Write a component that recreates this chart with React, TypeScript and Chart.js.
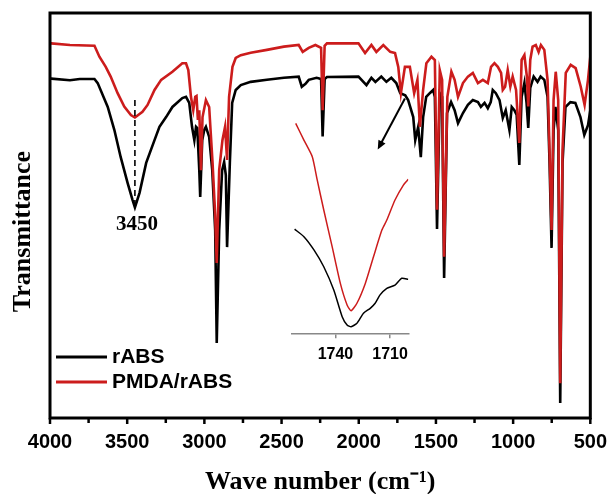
import React, { useEffect, useRef } from 'react';
import { Chart, registerables } from 'chart.js';

Chart.register(...registerables);

// ---------- data ----------
const SERIES_NAMES = ['rABS', 'PMDA/rABS'];
const SERIES_COLORS = ['#000000', '#cc1c1c'];
const X_TITLE = 'Wave number (cm\u207B\u00B9)';
const Y_TITLE = 'Transmittance';

const X_MIN = 500;
const X_MAX = 4000;
const X_TICK_STEP = 250;
const X_LABEL_STEP = 500;

const PEAK_LABEL = '3450';
const PEAK_WN = 3450;
const PEAK_DASH_TOP = 78.5;
const PEAK_DASH_BOTTOM = 52;
const PEAK_LABEL_Y = 47.7;

const ARROW_FROM = [1701, 78.9];
const ARROW_TO = [1877, 66.3];

const rabsWavenumber = [
  4000, 3992, 3871, 3807, 3712, 3691, 3626, 3583, 3542, 3497, 3465, 3450, 3420, 3377, 3323, 3291,
  3248, 3207, 3143, 3119, 3098, 3080, 3065, 3054, 3046, 3033, 3027, 3014, 3001, 2990, 2969, 2949,
  2930, 2920, 2904, 2885, 2872, 2861, 2853, 2835, 2820, 2797, 2764, 2700, 2595, 2485, 2389, 2369,
  2345, 2324, 2273, 2244, 2234, 2221, 2206, 2002, 1950, 1918, 1892, 1854, 1821, 1789, 1757, 1731,
  1699, 1680, 1647, 1634, 1615, 1598, 1583, 1563, 1540, 1518, 1507, 1493, 1475, 1460, 1447, 1428,
  1402, 1379, 1357, 1325, 1293, 1261, 1228, 1209, 1185, 1164, 1145, 1132, 1112, 1088, 1067, 1048,
  1024, 1009, 992, 977, 960, 945, 927, 913, 902, 889, 867, 842, 822, 798, 777, 764,
  751, 738, 726, 708, 695, 680, 661, 629, 597, 564, 539, 515, 500,
];
const rabsTransmittance = [
  83.8, 83.8, 83.4, 83.7, 83.7, 82.7, 76.8, 71.1, 64.4, 58.0, 53.8, 52.0, 55.6, 63.0, 68.6, 71.9,
  74.3, 76.8, 79.0, 79.3, 77.8, 71.9, 68.6, 71.9, 71.6, 61.2, 54.6, 68.6, 71.1, 71.9, 69.4, 61.2,
  46.4, 18.5, 46.4, 61.2, 63.2, 60.0, 42.2, 63.0, 77.8, 81.0, 82.2, 83.0, 83.5, 84.0, 84.3, 81.8,
  82.5, 83.5, 84.0, 83.7, 69.5, 83.7, 84.2, 84.3, 82.2, 84.0, 83.0, 84.3, 83.0, 84.0, 82.7, 80.2,
  79.7, 78.5, 74.3, 68.6, 71.9, 64.4, 74.3, 79.3, 80.2, 81.0, 79.3, 46.7, 80.2, 79.3, 34.6, 75.3,
  78.0, 76.0, 72.8, 75.3, 77.3, 78.5, 78.0, 76.8, 77.8, 76.5, 78.0, 81.0, 80.2, 78.5, 74.1, 76.0,
  71.1, 76.8, 76.0, 74.8, 62.5, 79.3, 82.7, 77.8, 71.6, 81.5, 84.3, 83.0, 84.3, 83.5, 79.3, 63.0,
  42.0, 71.1, 76.8, 71.1, 3.7, 63.0, 76.8, 78.0, 77.8, 74.3, 69.9, 72.3, 76.0,
];

const pmdaWavenumber = [
  4000, 3992, 3871, 3712, 3680, 3639, 3607, 3562, 3519, 3476, 3450, 3401, 3368, 3323, 3280, 3207,
  3143, 3119, 3104, 3087, 3072, 3059, 3051, 3042, 3033, 3022, 3012, 2990, 2969, 2947, 2930, 2920,
  2904, 2883, 2866, 2853, 2840, 2818, 2797, 2764, 2700, 2595, 2485, 2389, 2363, 2324, 2281, 2244,
  2234, 2221, 2206, 2002, 1959, 1918, 1886, 1841, 1796, 1765, 1744, 1727, 1701, 1669, 1641, 1620,
  1604, 1583, 1562, 1529, 1507, 1493, 1475, 1460, 1447, 1426, 1400, 1379, 1357, 1325, 1293, 1261,
  1228, 1196, 1164, 1143, 1121, 1099, 1078, 1067, 1052, 1035, 1018, 1003, 981, 960, 945, 927,
  911, 902, 889, 874, 853, 835, 820, 798, 777, 762, 751, 738, 724, 708, 695, 680,
  659, 627, 595, 562, 537, 515, 500,
];
const pmdaTransmittance = [
  92.5, 92.5, 92.1, 91.9, 89.2, 86.7, 84.3, 80.2, 76.9, 74.8, 74.2, 75.6, 77.3, 81.0, 83.5, 85.5,
  87.6, 87.6, 85.9, 79.3, 76.0, 79.3, 79.5, 73.6, 76.0, 61.2, 74.3, 78.5, 76.8, 63.0, 50.0, 38.3,
  61.2, 68.6, 71.9, 63.7, 79.3, 86.7, 88.9, 89.6, 90.2, 90.9, 91.7, 92.1, 90.4, 91.4, 92.1, 91.4,
  76.0, 91.9, 92.5, 92.5, 90.1, 92.1, 90.4, 92.1, 90.4, 90.1, 86.7, 80.2, 86.7, 86.7, 80.2, 83.5,
  71.9, 81.0, 87.6, 89.2, 88.4, 51.4, 85.9, 83.5, 39.8, 79.3, 85.5, 83.5, 79.3, 82.7, 84.3, 85.2,
  82.7, 83.5, 82.7, 86.7, 87.6, 86.7, 85.2, 81.0, 81.8, 85.9, 81.8, 84.3, 81.0, 67.9, 88.4, 89.6,
  84.3, 76.9, 88.4, 91.7, 92.1, 90.4, 92.1, 90.9, 83.5, 63.0, 46.4, 78.5, 85.5, 78.5, 8.6, 66.2,
  85.2, 87.2, 86.4, 81.8, 77.3, 83.5, 89.2,
];

// inset (C=O region)
const INSET_X_MIN = 1700;
const INSET_X_MAX = 1764;
const INSET_TICKS = [1740, 1710];
const insetRabsWavenumber = [1762.4, 1757.3, 1751.8, 1746.4, 1740.9, 1736.3, 1733.6, 1731.4, 1728.2, 1724.6, 1720.9, 1718.2, 1715.5, 1711.8, 1707.3, 1703.6, 1700];
const insetRabsValue = [48.8, 45.3, 39.1, 31.2, 20.3, 7.8, 3.9, 3.1, 4.7, 9.4, 11.7, 14.1, 18.0, 21.1, 22.6, 25.8, 25.3];
const insetPmdaWavenumber = [1761.8, 1757.3, 1752.7, 1750, 1746.4, 1741.8, 1737.3, 1733.6, 1731.4, 1728.2, 1723.6, 1719.1, 1714.5, 1711.8, 1707.3, 1702.7, 1700];
const insetPmdaValue = [98.4, 90.6, 82.8, 71.9, 57.8, 40.6, 23.4, 13.3, 10.6, 14.1, 23.4, 35.9, 48.4, 53.1, 62.5, 69.5, 72.2];

// ---------- styles ----------
const SANS = '"Liberation Sans", Arial, Helvetica, sans-serif';
const SERIF = '"Liberation Serif", "Times New Roman", Times, serif';

const pairs = (xs: number[], ys: number[]) => xs.map((x, i) => ({ x, y: ys[i] }));

const decorPlugin = {
  id: 'decor',
  afterDraw(chart: any) {
    const { ctx, chartArea: a, scales } = chart;
    const x = scales.x;
    const y = scales.y;
    ctx.save();
    // frame
    ctx.strokeStyle = '#000';
    ctx.lineWidth = 3;
    ctx.strokeRect(a.left, a.top, a.right - a.left, a.bottom - a.top);

    // x tick marks (major and minor), outward
    ctx.lineWidth = 2.5;
    x.ticks.forEach((t: any) => {
      const tx = x.getPixelForValue(t.value);
      const major = t.value % X_LABEL_STEP === 0;
      ctx.beginPath();
      ctx.moveTo(tx, a.bottom);
      ctx.lineTo(tx, a.bottom + (major ? 6 : 5));
      ctx.stroke();
    });

    // dashed marker at 3450
    const px = x.getPixelForValue(PEAK_WN);
    ctx.setLineDash([6, 4]);
    ctx.lineWidth = 1.6;
    ctx.beginPath();
    ctx.moveTo(px, y.getPixelForValue(PEAK_DASH_TOP));
    ctx.lineTo(px, y.getPixelForValue(PEAK_DASH_BOTTOM));
    ctx.stroke();
    ctx.setLineDash([]);
    ctx.fillStyle = '#000';
    ctx.font = `bold 21px ${SERIF}`;
    ctx.textAlign = 'center';
    ctx.textBaseline = 'middle';
    ctx.fillText(PEAK_LABEL, px + 2, y.getPixelForValue(PEAK_LABEL_Y));

    // arrow
    const x0 = x.getPixelForValue(ARROW_FROM[0]);
    const y0 = y.getPixelForValue(ARROW_FROM[1]);
    const x1 = x.getPixelForValue(ARROW_TO[0]);
    const y1 = y.getPixelForValue(ARROW_TO[1]);
    const ang = Math.atan2(y1 - y0, x1 - x0);
    const head = 9;
    ctx.lineWidth = 2;
    ctx.beginPath();
    ctx.moveTo(x0, y0);
    ctx.lineTo(x1 - Math.cos(ang) * head * 0.6, y1 - Math.sin(ang) * head * 0.6);
    ctx.stroke();
    ctx.beginPath();
    ctx.moveTo(x1, y1);
    ctx.lineTo(x1 - head * Math.cos(ang) + 4 * Math.sin(ang), y1 - head * Math.sin(ang) - 4 * Math.cos(ang));
    ctx.lineTo(x1 - head * Math.cos(ang) - 4 * Math.sin(ang), y1 - head * Math.sin(ang) + 4 * Math.cos(ang));
    ctx.closePath();
    ctx.fill();

    // legend
    ctx.font = `bold 21px ${SANS}`;
    ctx.textAlign = 'left';
    ctx.textBaseline = 'middle';
    chart.data.datasets.forEach((ds: any, i: number) => {
      const ly = a.bottom - 61 + i * 25;
      ctx.strokeStyle = ds.borderColor;
      ctx.lineWidth = 3;
      ctx.beginPath();
      ctx.moveTo(a.left + 6, ly);
      ctx.lineTo(a.left + 57, ly);
      ctx.stroke();
      ctx.fillStyle = '#000';
      ctx.fillText(ds.label, a.left + 62, ly);
    });

    // y title
    ctx.translate(23, (a.top + a.bottom) / 2 + 16);
    ctx.rotate(-Math.PI / 2);
    ctx.font = `bold 26px ${SERIF}`;
    ctx.textAlign = 'center';
    ctx.fillText(Y_TITLE, 0, 0);
    ctx.restore();
  },
};

export default function App() {
  const mainRef = useRef<HTMLCanvasElement>(null);
  const insetRef = useRef<HTMLCanvasElement>(null);

  useEffect(() => {
    document.body.style.margin = '0';
    const main = new Chart(mainRef.current as HTMLCanvasElement, {
      type: 'line',
      data: {
        datasets: [
          {
            label: SERIES_NAMES[0],
            data: pairs(rabsWavenumber, rabsTransmittance),
            borderColor: SERIES_COLORS[0],
            borderWidth: 2.6,
            pointRadius: 0,
            tension: 0,
            order: 1,
          },
          {
            label: SERIES_NAMES[1],
            data: pairs(pmdaWavenumber, pmdaTransmittance),
            borderColor: SERIES_COLORS[1],
            borderWidth: 2.6,
            pointRadius: 0,
            tension: 0,
            order: 0,
          },
        ],
      },
      options: {
        responsive: false,
        animation: false,
        layout: { padding: { top: 13, right: 21, left: 0, bottom: 0 } },
        plugins: { legend: { display: false }, tooltip: { enabled: false } },
        scales: {
          x: {
            type: 'linear',
            min: X_MIN,
            max: X_MAX,
            reverse: true,
            ticks: {
              stepSize: X_TICK_STEP,
              autoSkip: false,
              maxRotation: 0,
              padding: 7,
              color: '#000',
              font: { family: SANS, size: 20, weight: 'bold' },
              callback: (v: any) => (Number(v) % X_LABEL_STEP === 0 ? String(v) : ''),
            },
            grid: {
              display: true,
              drawOnChartArea: false,
              drawTicks: true,
              tickLength: 5,
              tickWidth: 2.5,
              color: 'rgba(0,0,0,0)',
            },
            border: { display: false },
            title: {
              display: true,
              text: X_TITLE,
              color: '#000',
              font: { family: SERIF, size: 26, weight: 'bold', lineHeight: 1 },
              padding: { top: 0, bottom: -1 },
            },
            afterFit: (s: any) => {
              s.height = 76;
            },
          },
          y: {
            min: 0,
            max: 100,
            ticks: { display: false },
            grid: { display: false },
            border: { display: false },
            afterFit: (s: any) => {
              s.width = 50;
            },
          },
        },
      } as any,
      plugins: [decorPlugin],
    });

    const inset = new Chart(insetRef.current as HTMLCanvasElement, {
      type: 'line',
      data: {
        datasets: [
          {
            label: SERIES_NAMES[0],
            data: pairs(insetRabsWavenumber, insetRabsValue),
            borderColor: SERIES_COLORS[0],
            borderWidth: 1.5,
            pointRadius: 0,
            tension: 0.2,
            order: 1,
          },
          {
            label: SERIES_NAMES[1],
            data: pairs(insetPmdaWavenumber, insetPmdaValue),
            borderColor: SERIES_COLORS[1],
            borderWidth: 1.5,
            pointRadius: 0,
            tension: 0.2,
            order: 0,
          },
        ],
      },
      options: {
        responsive: false,
        animation: false,
        layout: { padding: { left: 11.7, right: 11.7, top: 20, bottom: 0 } },
        plugins: { legend: { display: false }, tooltip: { enabled: false } },
        scales: {
          x: {
            type: 'linear',
            min: INSET_X_MIN,
            max: INSET_X_MAX,
            reverse: true,
            afterBuildTicks: (s: any) => {
              s.ticks = INSET_TICKS.map((v) => ({ value: v }));
            },
            ticks: {
              autoSkip: false,
              maxRotation: 0,
              padding: 6.6,
              color: '#000',
              font: { family: SANS, size: 16, weight: 'bold' },
              callback: (v: any) => String(v),
            },
            grid: {
              display: true,
              drawOnChartArea: false,
              drawTicks: true,
              tickLength: 5,
              color: '#888',
              lineWidth: 1.5,
            },
            border: { display: true, color: '#888', width: 1.5 },
            afterFit: (s: any) => {
              s.height = 36.7;
            },
          },
          y: { display: false, min: 0, max: 100 },
        },
      } as any,
    });

    return () => {
      main.destroy();
      inset.destroy();
    };
  }, []);

  return (
    <div style={{ position: 'relative', width: 614, height: 494, background: '#fff', overflow: 'hidden' }}>
      <canvas ref={mainRef} width={614} height={494} style={{ position: 'absolute', left: 0, top: 0 }} />
      <canvas ref={insetRef} width={140} height={270} style={{ position: 'absolute', left: 280, top: 100 }} />
    </div>
  );
}
